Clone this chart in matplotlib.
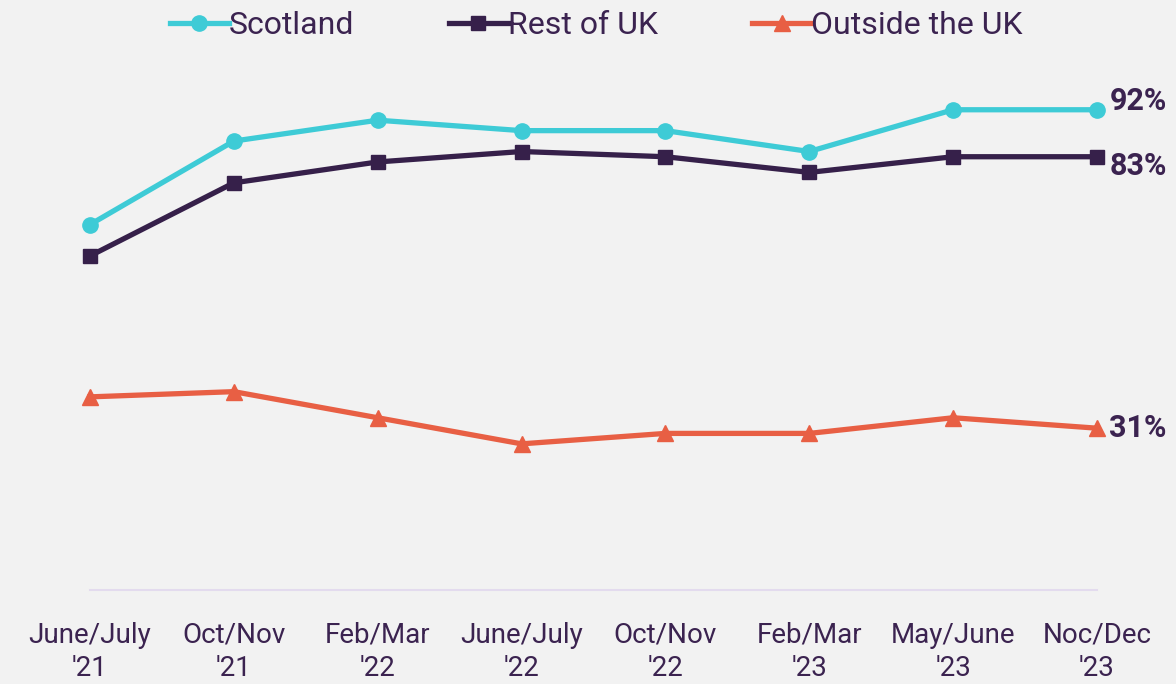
import matplotlib.pyplot as plt

periods = ["June/July\n'21", "Oct/Nov\n'21", "Feb/Mar\n'22", "June/July\n'22",
           "Oct/Nov\n'22", "Feb/Mar\n'23", "May/June\n'23", "Noc/Dec\n'23"]
scotland = [70, 86, 90, 88, 88, 84, 92, 92]
rest_uk = [64, 78, 82, 84, 83, 80, 83, 83]
outside_uk = [37, 38, 33, 28, 30, 30, 33, 31]

plt.rcParams['font.family'] = ['Roboto', 'DejaVu Sans']
txt = '#3b2350'
bg = '#f2f2f2'

fig = plt.figure(figsize=(11.76, 6.84), dpi=100, facecolor=bg)
ax = fig.add_axes([0.0765, 0.1374, 0.8563, 0.7632], facecolor=bg)

x = range(len(periods))
ax.plot(x, scotland, color='#3ecbd6', lw=3.8, marker='o', ms=11, label='Scotland', clip_on=False)
ax.plot(x, rest_uk, color='#36204a', lw=3.8, marker='s', ms=10.5, label='Rest of UK', clip_on=False)
ax.plot(x, outside_uk, color='#e85f44', lw=3.8, marker='^', ms=11, label='Outside the UK', clip_on=False)

ax.set_xlim(0, len(periods) - 1)
ax.set_ylim(0, 100)
ax.set_yticks([])
ax.set_xticks(list(x))
ax.set_xticklabels(periods, fontsize=20, color=txt, linespacing=1.3)
ax.tick_params(axis='x', length=0, pad=23)
for s in ['top', 'right', 'left']:
    ax.spines[s].set_visible(False)
ax.spines['bottom'].set_color('#e3dbee')
ax.spines['bottom'].set_linewidth(1.5)

for series, dy in [(scotland, 6), (rest_uk, -7), (outside_uk, 0)]:
    ax.annotate(f"{series[-1]}%", (len(periods) - 1, series[-1]), xytext=(9, dy),
                textcoords='offset points', ha='left', va='center',
                fontsize=22, fontweight='bold', color=txt, annotation_clip=False)

leg = fig.legend(loc='center', bbox_to_anchor=(0.507, 0.963), ncol=3, frameon=False,
                 fontsize=23, handlelength=1.85, handletextpad=0.0, columnspacing=2.95,
                 labelcolor=txt)

fig.savefig('out.png', dpi=100, facecolor=bg)
